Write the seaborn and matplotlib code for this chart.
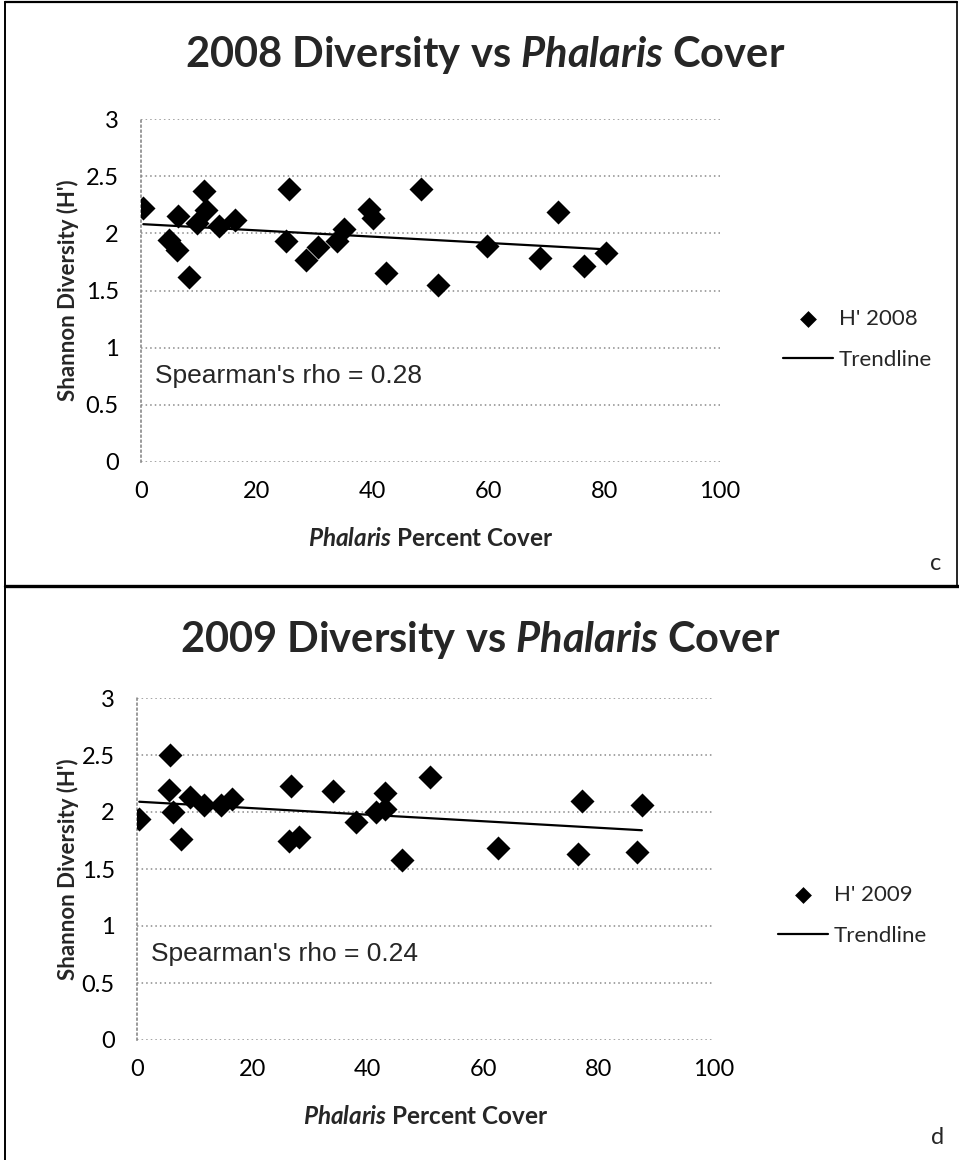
import matplotlib
matplotlib.use("Agg")
import matplotlib.pyplot as plt
from matplotlib.lines import Line2D
import seaborn as sns
import numpy as np

# ---------------- data ----------------
cover_2008 = [0.4, 4.9, 6.4, 6.2, 8.3, 9.6, 10.8, 11.2, 13.4, 16.2, 25.0, 25.5, 28.5,
              30.6, 33.8, 35.1, 39.3, 40.1, 42.4, 48.4, 51.3, 59.7, 68.9, 72.1, 76.5, 80.3]
h_2008 = [2.22, 1.94, 2.15, 1.85, 1.62, 2.09, 2.37, 2.20, 2.06, 2.12, 1.93, 2.39, 1.77,
          1.88, 1.93, 2.04, 2.21, 2.13, 1.65, 2.39, 1.55, 1.89, 1.78, 2.19, 1.71, 1.83]
trend_x_2008 = [0.4, 80.3]
trend_y_2008 = [2.08, 1.86]

cover_2009 = [0.4, 5.8, 5.6, 6.2, 9.1, 7.7, 11.6, 14.5, 16.4, 26.7, 26.4, 28.0, 33.9,
              38.0, 41.5, 42.9, 43.0, 46.0, 50.8, 62.5, 76.5, 77.1, 87.5, 86.7]
h_2009 = [1.94, 2.50, 2.19, 2.00, 2.13, 1.76, 2.06, 2.06, 2.11, 2.23, 1.75, 1.78, 2.18,
          1.91, 2.00, 2.03, 2.17, 1.58, 2.31, 1.68, 1.63, 2.10, 2.06, 1.65]
trend_x_2009 = [0.4, 87.5]
trend_y_2009 = [2.09, 1.84]

x_ticks = [0, 20, 40, 60, 80, 100]
y_ticks = [0, 0.5, 1, 1.5, 2, 2.5, 3]
y_tick_labels = ["0", "0.5", "1", "1.5", "2", "2.5", "3"]

years = ["2008", "2009"]
rho_texts = ["Spearman's rho = 0.28", "Spearman's rho = 0.24"]
panel_letters = ["c", "d"]

# ---------------- style ----------------
sns.set_theme(style="white")
plt.rcParams["font.family"] = ["Lato", "DejaVu Sans"]
plt.rcParams["mathtext.fontset"] = "custom"
plt.rcParams["mathtext.it"] = "Lato:italic:bold"
plt.rcParams["mathtext.rm"] = "Lato:bold"
plt.rcParams["mathtext.bf"] = "Lato:bold"

W, H = 959, 1160
fig = plt.figure(figsize=(W / 100, H / 100), dpi=100)
fig.patch.set_facecolor("white")

def fx(px):
    return px / W

def fy(py):
    return 1 - py / H

# axes geometry in pixels: (left, right, top, bottom)
geoms = [(141, 720, 119, 462), (137, 714, 698, 1040)]
title_y = [55, 640]
xlabel_y = [538, 1117]
legend_pos = [(783, 339.5), (778, 915.5)]
letter_pos = [(936, 563), (938, 1137)]

datasets = [(cover_2008, h_2008, trend_x_2008, trend_y_2008),
            (cover_2009, h_2009, trend_x_2009, trend_y_2009)]

grid_color = "#8a8a8a"

for i, (l, r, t, b) in enumerate(geoms):
    ax = fig.add_axes([fx(l), fy(b), (r - l) / W, (b - t) / H])
    xs, ys, tx, ty = datasets[i]
    sns.scatterplot(x=xs, y=ys, marker="D", s=150, color="black",
                    edgecolor="black", linewidth=0, ax=ax,
                    label=f"H' {years[i]}", zorder=3)
    sns.lineplot(x=tx, y=ty, color="black", linewidth=1.6, ax=ax,
                 label="Trendline", zorder=2)

    ax.set_xlim(0, 100)
    ax.set_ylim(0, 3)
    ax.set_xticks(x_ticks)
    ax.set_xticklabels([str(v) for v in x_ticks])
    ax.set_yticks(y_ticks)
    ax.set_yticklabels(y_tick_labels)
    ax.tick_params(axis="x", length=0, pad=14, labelsize=17, colors="black")
    ax.tick_params(axis="y", length=0, pad=16, labelsize=17, colors="black")

    for s in ["top", "right", "bottom"]:
        ax.spines[s].set_visible(False)
    ax.spines["left"].set_color(grid_color)
    ax.spines["left"].set_linestyle((0, (1, 2)))
    ax.spines["left"].set_linewidth(1.2)

    ax.yaxis.grid(True, color=grid_color, linestyle=(0, (1, 2)), linewidth=1.1)
    ax.xaxis.grid(False)
    ax.set_axisbelow(True)

    ax.set_xlabel(r"$\mathit{Phalaris}$ Percent Cover", fontsize=17.5,
                  fontweight="bold")
    ax.xaxis.set_label_coords(0.5, -(xlabel_y[i] - b) / (b - t))
    ax.xaxis.label.set_verticalalignment("center")
    ax.set_ylabel("Shannon Diversity (H')", fontsize=16, fontweight="bold")
    ax.yaxis.set_label_coords(-(l - 68) / (r - l), 0.5)
    ax.yaxis.label.set_verticalalignment("center")

    ax.text(2.4, 0.75, rho_texts[i], fontsize=19, va="center", ha="left",
            family=["Liberation Sans", "DejaVu Sans"])

    fig.text(fx((l + r) / 2 + 55), fy(title_y[i]),
             f"{years[i]} Diversity vs " + r"$\mathit{Phalaris}$" + " Cover",
             fontsize=30, fontweight="bold", ha="center", va="center")

    lx, ly = legend_pos[i]
    ax.legend(loc="center left", bbox_to_anchor=(fx(lx), fy(ly)),
              bbox_transform=fig.transFigure, frameon=False, fontsize=16,
              handlelength=2.25, handletextpad=0.25, labelspacing=0.95,
              borderpad=0, borderaxespad=0, markerscale=0.7)

    cx, cy = letter_pos[i]
    fig.text(fx(cx), fy(cy), panel_letters[i], fontsize=17, ha="center",
             va="center")

# frame lines
fig.add_artist(Line2D([fx(5), fx(957)], [fy(2), fy(2)], color="black", lw=1.6))
fig.add_artist(Line2D([fx(5), fx(5)], [fy(2), fy(1160)], color="black", lw=1.4))
fig.add_artist(Line2D([fx(957), fx(957)], [fy(2), fy(586)], color="black", lw=1.2))
fig.add_artist(Line2D([fx(5), fx(959)], [fy(586), fy(586)], color="black", lw=2.4))

fig.savefig("out.png", dpi=100, facecolor="white")
